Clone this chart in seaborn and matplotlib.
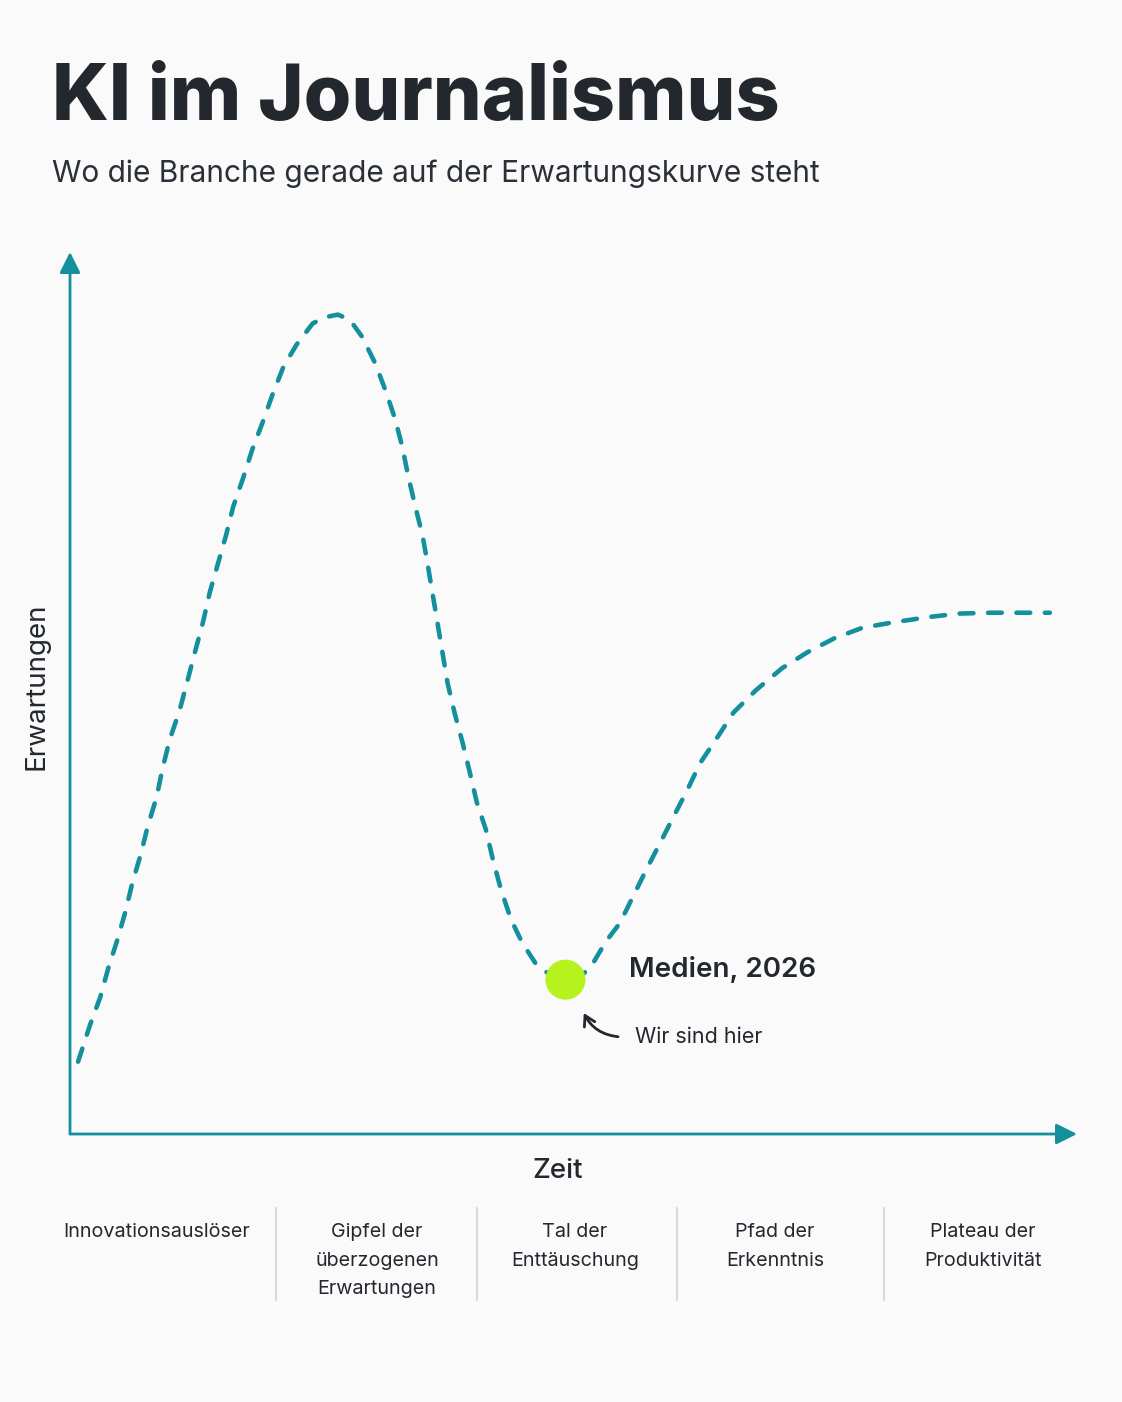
import numpy as np
import pandas as pd
import seaborn as sns
import matplotlib.pyplot as plt

# Hype-Kurve (Zeit 0-100, Erwartungen 0-100)
zeit = [0.8, 2.0, 3.0, 3.8, 4.7, 5.5, 6.2, 7.0, 7.7, 8.6, 9.2, 9.9, 10.9, 11.6,
        12.4, 13.2, 13.9, 14.7, 15.5, 16.2, 17.2, 18.1, 19.1, 20.1, 21.2, 22.5,
        24.1, 25.3, 26.6, 27.8, 29.0, 30.3, 31.4, 32.3, 33.0, 33.6, 34.3, 35.0,
        35.5, 36.0, 36.5, 37.0, 37.5, 38.2, 39.0, 39.7, 40.4, 41.3, 42.0, 42.8,
        43.8, 44.9, 46.2, 47.7, 49.2, 50.6, 51.7, 53.2, 54.6, 55.9, 57.2, 58.6,
        59.9, 61.3, 62.6, 64.3, 65.9, 68.1, 70.7, 73.2, 75.9, 78.7, 81.7, 85.2,
        88.2, 91.3, 94.3, 97.3]
erwartung = [8.2, 12.4, 15.5, 18.8, 22.0, 25.2, 28.5, 31.6, 34.8, 38.2, 41.5,
             44.7, 48.1, 51.1, 54.6, 58.0, 61.5, 64.7, 67.9, 71.1, 74.4, 77.6,
             80.6, 83.8, 87.0, 89.5, 91.9, 92.6, 92.9, 92.3, 90.4, 87.4, 84.1,
             81.0, 77.9, 74.5, 71.1, 67.9, 64.7, 61.3, 57.9, 54.5, 51.1, 47.7,
             44.3, 41.0, 37.6, 34.5, 31.1, 27.7, 24.3, 21.7, 19.4, 18.0, 17.5,
             17.8, 18.9, 21.8, 23.9, 26.9, 29.9, 33.0, 35.9, 39.0, 42.1, 45.0,
             47.8, 50.3, 52.8, 54.6, 56.2, 57.4, 58.0, 58.6, 59.0, 59.1, 59.1,
             59.1]

# aktuelle Position
punkt_zeit = [49.2]
punkt_erwartung = [17.5]
punkt_label = "Medien, 2026"

phasen = ["Innovationsauslöser",
          "Gipfel der\nüberzogenen\nErwartungen",
          "Tal der\nEnttäuschung",
          "Pfad der\nErkenntnis",
          "Plateau der\nProduktivität"]

TEAL = "#14909d"
DARK = "#23272e"
LIME = "#b6f21e"
BG = "#fafafa"

sns.set_theme(style="white")
plt.rcParams['font.family'] = ['Inter', 'DejaVu Sans']

W, H = 1122, 1402
fig = plt.figure(figsize=(W / 100, H / 100), dpi=100, facecolor=BG)
ax = fig.add_axes([70 / W, 1 - 1134 / H, 1007 / W, 882 / H])
ax.set_facecolor(BG)

kurve = pd.DataFrame({"zeit": zeit, "erwartung": erwartung})
sns.lineplot(data=kurve, x="zeit", y="erwartung", ax=ax, color=TEAL,
             linewidth=3.3, sort=False)
l = ax.lines[0]
l.set_dashes((3.0, 3.2))
l.set_dash_capstyle("round")
l.set_solid_joinstyle("round")

sns.scatterplot(x=punkt_zeit, y=punkt_erwartung, ax=ax, s=830, color=LIME,
                edgecolor="none", zorder=5)

ax.set_xlim(0, 100)
ax.set_ylim(0, 100)
ax.set_xticks([])
ax.set_yticks([])
ax.set_xlabel("")
ax.set_ylabel("")
for s in ax.spines.values():
    s.set_visible(False)

# Achsen mit Pfeilspitzen
arrow = dict(arrowstyle="-|>,head_length=0.7,head_width=0.35", color=TEAL,
             lw=2.0, shrinkA=0, shrinkB=0, mutation_scale=18)
ax.annotate("", xy=(0, 1.0), xytext=(0, 0), xycoords="axes fraction",
            arrowprops=arrow, annotation_clip=False)
ax.annotate("", xy=(1.0, 0), xytext=(0, 0), xycoords="axes fraction",
            arrowprops=arrow, annotation_clip=False)

# Beschriftung des Punkts
px, py = punkt_zeit[0], punkt_erwartung[0]
ax.annotate(punkt_label, xy=(px, py), xytext=(46, 7), textcoords="offset points",
            fontsize=20, fontweight="semibold", color=DARK, va="center", ha="left")
ax.annotate("Wir sind hier", xy=(px, py), xytext=(50, -41),
            textcoords="offset points", fontsize=15.5, color=DARK,
            va="center", ha="left")
ax.annotate("", xy=(px + 1.7, py - 3.5), xytext=(px + 5.5, py - 6.5),
            arrowprops=dict(arrowstyle="->,head_length=0.6,head_width=0.35",
                            color=DARK, lw=2.0,
                            connectionstyle="arc3,rad=-0.3"))

# Titel
fig.text(52 / W, 1 - 99 / H, "KI im Journalismus", fontsize=55.5,
         fontweight="heavy", color=DARK, va="center", ha="left")
fig.text(52 / W, 1 - 174 / H, "Wo die Branche gerade auf der Erwartungskurve steht",
         fontsize=21.5, color="#2b3038", va="center", ha="left")

# Achsentitel
fig.text(37 / W, 1 - 686 / H, "Erwartungen", fontsize=20, rotation=90,
         color=DARK, va="center", ha="center")
fig.text(558 / W, 1 - 1171 / H, "Zeit", fontsize=20, fontweight="medium",
         color=DARK, va="center", ha="center")

# Phasen
phase_x = [157, 377, 575, 775, 983]
for x, label in zip(phase_x, phasen):
    fig.text(x / W, 1 - 1223 / H, label, fontsize=14.2, color=DARK,
             va="top", ha="center", linespacing=1.75)
for x in [276, 477, 677, 884]:
    fig.add_artist(plt.Line2D([x / W, x / W], [1 - 1208 / H, 1 - 1300 / H],
                              color="#d8dbde", lw=1.6))

fig.savefig("out.png", dpi=100, facecolor=BG)
